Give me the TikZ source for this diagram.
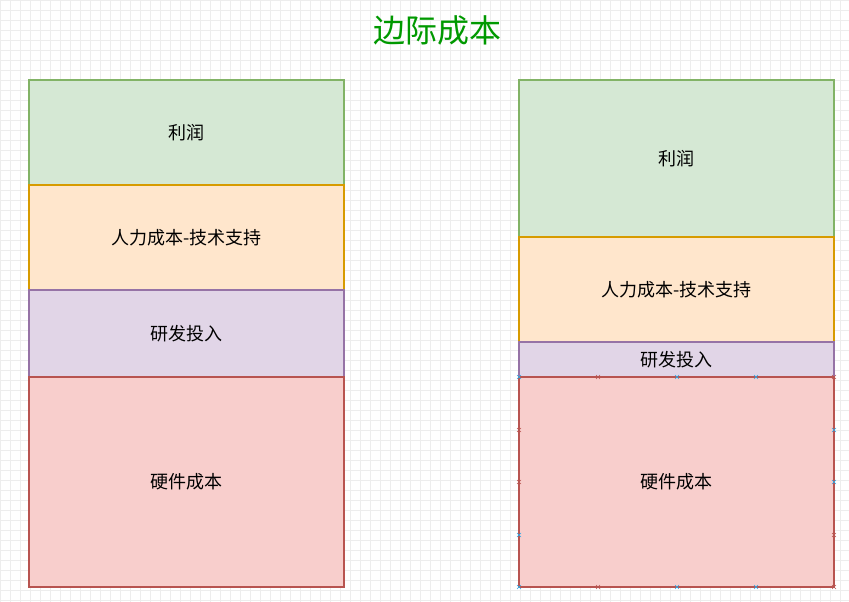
\documentclass[tikz,border=0pt]{standalone}
\usepackage{fontspec}
\setmainfont{Noto Sans CJK SC}
\usepackage{tikz}
\definecolor{gfill}{HTML}{D5E8D4}\definecolor{gline}{HTML}{82B366}
\definecolor{ofill}{HTML}{FFE6CC}\definecolor{oline}{HTML}{D79B00}
\definecolor{pfill}{HTML}{E1D5E7}\definecolor{pline}{HTML}{9673A6}
\definecolor{rfill}{HTML}{F8CECC}\definecolor{rline}{HTML}{B85450}
\definecolor{ttl}{HTML}{009900}\definecolor{mk}{HTML}{29A6E8}
\tikzset{
  blk/.style={draw, line width=0.9pt, minimum width=315*0.75pt, inner sep=0pt, font=\fontsize{13.5}{16}\selectfont},
  cross/.style={line width=0.5pt}
}
\begin{document}
\begin{tikzpicture}[x=0.75pt,y=-0.75pt]
\useasboundingbox (0,0) rectangle (849,602);
\fill[white] (0,0) rectangle (849,602);
\foreach \gx in {0,10,...,840} \draw[black!7, line width=0.4pt] (\gx,0) -- (\gx,602);
\foreach \gy in {0,10,...,600} \draw[black!7, line width=0.4pt] (0,\gy) -- (849,\gy);
\node[text=ttl, font=\fontsize{24}{28}\selectfont] (title) at (437,30) {边际成本};
% left stack
\node[blk, fill=gfill, draw=gline, minimum height=105*0.75pt] (lprofit) at (186.5,132.5) {利润};
\node[blk, fill=ofill, draw=oline, minimum height=105*0.75pt] (llabour) at (186.5,237.5) {人力成本-技术支持};
\node[blk, fill=pfill, draw=pline, minimum height=87*0.75pt] (lrd) at (186.5,333.5) {研发投入};
\node[blk, fill=rfill, draw=rline, minimum height=210*0.75pt] (lhw) at (186.5,482) {硬件成本};
% right stack
\node[blk, fill=gfill, draw=gline, minimum height=157*0.75pt] (rprofit) at (676.5,158.5) {利润};
\node[blk, fill=ofill, draw=oline, minimum height=105*0.75pt] (rlabour) at (676.5,289.5) {人力成本-技术支持};
\node[blk, fill=pfill, draw=pline, minimum height=35*0.75pt] (rrd) at (676.5,359.5) {研发投入};
\node[blk, fill=rfill, draw=rline, minimum height=210*0.75pt] (rhw) at (676.5,482) {硬件成本};
% connection marks
\foreach \x/\mc in {519/mk,598/rline,677/mk,756/mk,834/rline}{
  \foreach \y in {377,587}
    \draw[cross, draw=\mc] (\x-2,\y-2) -- (\x+2,\y+2) (\x-2,\y+2) -- (\x+2,\y-2);
}
\foreach \y/\a/\b in {430/rline/mk,482/rline/mk,535/mk/rline}{
  \draw[cross, draw=\a] (517,\y-2) -- (521,\y+2) (517,\y+2) -- (521,\y-2);
  \draw[cross, draw=\b] (832,\y-2) -- (836,\y+2) (832,\y+2) -- (836,\y-2);
}
\end{tikzpicture}
\end{document}
